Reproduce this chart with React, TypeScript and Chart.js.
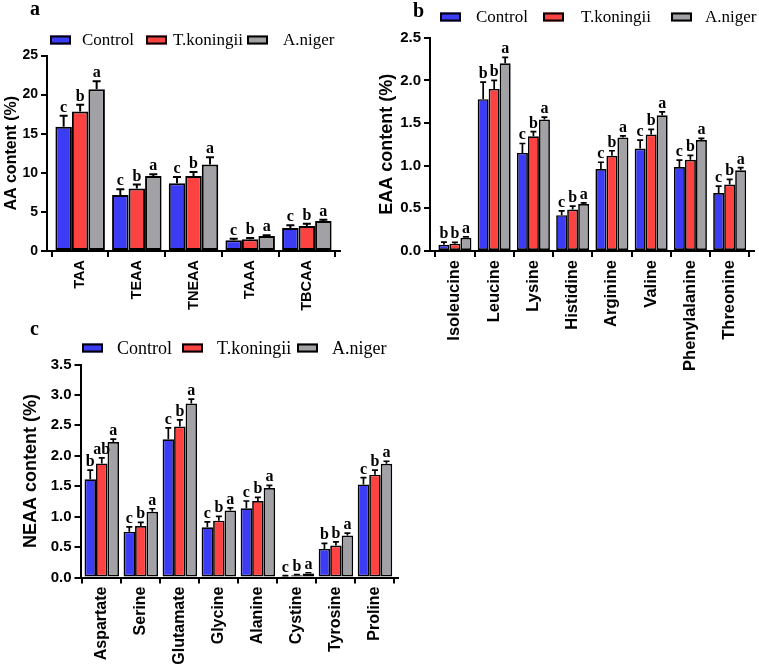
import { useEffect, useRef } from 'react';
import { Chart, registerables } from 'chart.js';
Chart.register(...registerables);

const groups = ['Control', 'T.koningii', 'A.niger'];
const colors = ['#3c3cf4', '#fd4242', '#a2a2a6'];

// Panel a
const aCategories = ['TAA', 'TEAA', 'TNEAA', 'TAAA', 'TBCAA'];
const aControl = [15.9, 7.15, 8.65, 1.37, 2.95];
const aControlErr = [1.4, 0.75, 0.8, 0.2, 0.35];
const aKoningii = [17.85, 8.0, 9.6, 1.5, 3.2];
const aKoningiiErr = [0.85, 0.5, 0.5, 0.15, 0.3];
const aNiger = [20.7, 9.6, 11.05, 1.93, 3.85];
const aNigerErr = [1.0, 0.2, 0.95, 0.1, 0.15];
const aControlSig = ['c', 'c', 'c', 'c', 'c'];
const aKoningiiSig = ['b', 'b', 'b', 'b', 'b'];
const aNigerSig = ['a', 'a', 'a', 'a', 'a'];
const aTicks = [0, 5, 10, 15, 20, 25];

// Panel b
const bCategories = ['Isoleucine', 'Leucine', 'Lysine', 'Histidine', 'Arginine', 'Valine', 'Phenylalanine', 'Threonine'];
const bControl = [0.074, 1.78, 1.15, 0.42, 0.96, 1.2, 0.985, 0.68];
const bControlErr = [0.03, 0.2, 0.11, 0.05, 0.08, 0.1, 0.08, 0.08];
const bKoningii = [0.086, 1.9, 1.345, 0.485, 1.115, 1.365, 1.07, 0.78];
const bKoningiiErr = [0.015, 0.1, 0.055, 0.04, 0.06, 0.06, 0.05, 0.06];
const bNiger = [0.156, 2.2, 1.54, 0.55, 1.33, 1.59, 1.3, 0.947];
const bNigerErr = [0.01, 0.07, 0.03, 0.015, 0.02, 0.04, 0.02, 0.03];
const bControlSig = ['b', 'b', 'c', 'c', 'c', 'c', 'c', 'c'];
const bKoningiiSig = ['b', 'b', 'b', 'b', 'b', 'b', 'b', 'b'];
const bNigerSig = ['a', 'a', 'a', 'a', 'a', 'a', 'a', 'a'];
const bTicks = [0, 0.5, 1.0, 1.5, 2.0, 2.5];

// Panel c
const cCategories = ['Aspartate', 'Serine', 'Glutamate', 'Glycine', 'Alanine', 'Cystine', 'Tyrosine', 'Proline'];
const cControl = [1.615, 0.753, 2.27, 0.824, 1.137, 0.022, 0.47, 1.53];
const cControlErr = [0.15, 0.08, 0.19, 0.09, 0.12, 0.01, 0.09, 0.11];
const cKoningii = [1.875, 0.846, 2.48, 0.934, 1.258, 0.038, 0.527, 1.69];
const cKoningiiErr = [0.09, 0.06, 0.11, 0.07, 0.06, 0.01, 0.06, 0.075];
const cNiger = [2.225, 1.08, 2.86, 1.1, 1.47, 0.066, 0.69, 1.87];
const cNigerErr = [0.05, 0.05, 0.07, 0.045, 0.045, 0.012, 0.04, 0.04];
const cControlSig = ['b', 'c', 'c', 'c', 'c', 'c', 'b', 'c'];
const cKoningiiSig = ['ab', 'b', 'b', 'b', 'b', 'b', 'b', 'b'];
const cNigerSig = ['a', 'a', 'a', 'a', 'a', 'a', 'a', 'a'];
const cTicks = [0, 0.5, 1.0, 1.5, 2.0, 2.5, 3.0, 3.5];

type Panel = {
  letter: string;
  left: number; top: number; width: number; height: number;
  categories: string[];
  values: number[][]; errors: number[][]; sig: string[][];
  yTicks: number[]; decimals: number; yTitle: string;
  area: { left: number; right: number; top: number; bottom: number };
  padLeft: number; titlePad: number;
  xMin: number; xMax: number;
  barThickness: number; borderWidth: number; errWidth: number; capHalf: number;
  tickFont: number; catFont: number; titleFont: number; sigFont: number;
  legendBoxes: number[]; legendTexts: number[]; legendY: number; legendFont: number;
  letterX: number; letterY: number;
};

const panels: Panel[] = [
  {
    letter: 'a', left: 0, top: 0, width: 380, height: 320,
    categories: aCategories,
    values: [aControl, aKoningii, aNiger], errors: [aControlErr, aKoningiiErr, aNigerErr],
    sig: [aControlSig, aKoningiiSig, aNigerSig],
    yTicks: aTicks, decimals: 0, yTitle: 'AA content (%)',
    area: { left: 47, right: 340, top: 55.5, bottom: 251 },
    padLeft: 0, titlePad: 2,
    xMin: -0.585, xMax: 4.585,
    barThickness: 16.5, borderWidth: 2, errWidth: 2, capHalf: 4,
    tickFont: 14, catFont: 14.5, titleFont: 16, sigFont: 16,
    legendBoxes: [50, 146, 247], legendTexts: [82, 173, 283], legendY: 40, legendFont: 17,
    letterX: 30, letterY: 15,
  },
  {
    letter: 'b', left: 370, top: 0, width: 389, height: 400,
    categories: bCategories,
    values: [bControl, bKoningii, bNiger], errors: [bControlErr, bKoningiiErr, bNigerErr],
    sig: [bControlSig, bKoningiiSig, bNigerSig],
    yTicks: bTicks, decimals: 1, yTitle: 'EAA content (%)',
    area: { left: 60, right: 384, top: 37.7, bottom: 251 },
    padLeft: 2, titlePad: 4,
    xMin: -0.635, xMax: 7.62,
    barThickness: 11, borderWidth: 1.7, errWidth: 1.7, capHalf: 3,
    tickFont: 15, catFont: 16.5, titleFont: 18, sigFont: 16,
    legendBoxes: [70, 173, 301], legendTexts: [106, 211, 335], legendY: 17, legendFont: 17,
    letterX: 43, letterY: 17,
  },
  {
    letter: 'c', left: 0, top: 320, width: 430, height: 347,
    categories: cCategories,
    values: [cControl, cKoningii, cNiger], errors: [cControlErr, cKoningiiErr, cNigerErr],
    sig: [cControlSig, cKoningiiSig, cNigerSig],
    yTicks: cTicks, decimals: 1, yTitle: 'NEAA content (%)',
    area: { left: 80.5, right: 398, top: 44.5, bottom: 257.5 },
    padLeft: 16, titlePad: 4,
    xMin: -0.545, xMax: 7.59,
    barThickness: 11.5, borderWidth: 1.7, errWidth: 1.7, capHalf: 3,
    tickFont: 15, catFont: 16, titleFont: 18, sigFont: 16,
    legendBoxes: [82, 182, 297], legendTexts: [117, 217, 332], legendY: 28, legendFont: 18,
    letterX: 30, letterY: 15,
  },
];

function makeChart(canvas: HTMLCanvasElement, p: Panel) {
  const decor = {
    id: 'decor' + p.letter,
    afterDatasetsDraw(chart: any) {
      const ctx = chart.ctx;
      const ys = chart.scales.y;
      ctx.save();
      p.values.forEach((series, di) => {
        const meta = chart.getDatasetMeta(di);
        meta.data.forEach((bar: any, j: number) => {
          const x = bar.x;
          const topY = ys.getPixelForValue(series[j] + p.errors[di][j]);
          ctx.strokeStyle = '#000';
          ctx.lineWidth = p.errWidth;
          ctx.beginPath();
          ctx.moveTo(x, bar.y);
          ctx.lineTo(x, topY);
          ctx.moveTo(x - p.capHalf, topY);
          ctx.lineTo(x + p.capHalf, topY);
          ctx.stroke();
          ctx.fillStyle = '#000';
          ctx.font = `bold ${p.sigFont}px "Liberation Serif"`;
          ctx.textAlign = 'center';
          ctx.textBaseline = 'alphabetic';
          ctx.fillText(p.sig[di][j], x, topY - 4);
        });
      });
      // legend
      groups.forEach((g, i) => {
        const bx = p.legendBoxes[i];
        ctx.fillStyle = colors[i];
        ctx.fillRect(bx, p.legendY - 4.5, 21, 9);
        ctx.strokeStyle = '#000';
        ctx.lineWidth = 2;
        ctx.strokeRect(bx + 1, p.legendY - 3.5, 19, 7);
        ctx.fillStyle = '#000';
        ctx.font = `${p.legendFont}px "Liberation Serif"`;
        ctx.textAlign = 'left';
        ctx.textBaseline = 'middle';
        ctx.fillText(g, p.legendTexts[i], p.legendY + 1);
      });
      // panel letter
      ctx.font = 'bold 20px "Liberation Serif"';
      ctx.textAlign = 'left';
      ctx.textBaseline = 'alphabetic';
      ctx.fillStyle = '#000';
      ctx.fillText(p.letter, p.letterX, p.letterY);
      ctx.restore();
    },
  };

  return new Chart(canvas, {
    type: 'bar',
    data: {
      datasets: groups.map((g, i) => ({
        label: g,
        data: p.values[i].map((v, j) => ({ x: j, y: v })),
        backgroundColor: colors[i],
        borderColor: '#000',
        borderWidth: p.borderWidth,
        borderSkipped: false,
        inflateAmount: 0,
        barThickness: p.barThickness,
      })),
    },
    options: {
      animation: false,
      responsive: false,
      maintainAspectRatio: false,
      events: [],
      layout: {
        padding: { left: p.padLeft, top: p.area.top, right: p.width - p.area.right, bottom: 0 },
      },
      plugins: { legend: { display: false }, tooltip: { enabled: false } },
      scales: {
        x: {
          type: 'linear',
          min: p.xMin,
          max: p.xMax,
          offset: false,
          afterBuildTicks: (s: any) => {
            s.ticks = p.categories.map((_, i) => ({ value: i }));
          },
          afterFit: (s: any) => {
            s.height = p.height - p.area.bottom;
          },
          ticks: {
            autoSkip: false,
            minRotation: 90,
            maxRotation: 90,
            padding: 3,
            color: '#000',
            font: { family: 'Liberation Sans', weight: 'bold', size: p.catFont },
            callback: (v: any) => p.categories[v] ?? '',
          },
          grid: { display: true, drawOnChartArea: false, drawTicks: true, tickLength: 6, color: '#000', lineWidth: 2 },
          border: { display: true, color: '#000', width: 2 },
        },
        y: {
          min: p.yTicks[0],
          max: p.yTicks[p.yTicks.length - 1],
          afterBuildTicks: (s: any) => {
            s.ticks = p.yTicks.map((v) => ({ value: v }));
          },
          afterFit: (s: any) => {
            s.width = p.area.left - p.padLeft;
          },
          ticks: {
            padding: 3,
            color: '#000',
            font: { family: 'Liberation Sans', weight: 'bold', size: p.tickFont },
            callback: (v: any) => Number(v).toFixed(p.decimals),
          },
          grid: { display: true, drawOnChartArea: false, drawTicks: true, tickLength: 6, color: '#000', lineWidth: 2 },
          border: { display: true, color: '#000', width: 2 },
          title: {
            display: true,
            text: p.yTitle,
            color: '#000',
            padding: { top: p.titlePad, bottom: 0 },
            font: { family: 'Liberation Sans', weight: 'bold', size: p.titleFont },
          },
        },
      },
    } as any,
    plugins: [decor],
  });
}

function PanelCanvas({ p }: { p: Panel }) {
  const ref = useRef<HTMLCanvasElement>(null);
  useEffect(() => {
    if (!ref.current) return;
    const chart = makeChart(ref.current, p);
    return () => chart.destroy();
  }, [p]);
  return (
    <canvas
      ref={ref}
      width={p.width}
      height={p.height}
      style={{ position: 'absolute', left: p.left, top: p.top, width: p.width, height: p.height }}
    />
  );
}

export default function App() {
  return (
    <div style={{ position: 'fixed', left: 0, top: 0, width: 759, height: 667, background: '#fff', overflow: 'hidden' }}>
      {panels.map((p) => (
        <PanelCanvas key={p.letter} p={p} />
      ))}
    </div>
  );
}
